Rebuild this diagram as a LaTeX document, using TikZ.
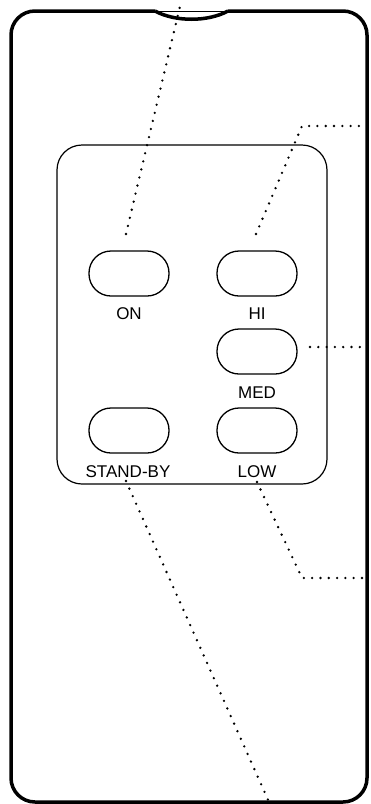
\documentclass[tikz,border=0pt]{standalone}
\usepackage{fontspec}
\setmainfont{Liberation Sans}
\begin{document}
\begin{tikzpicture}[x=1pt, y=-1pt,
    btn/.style={draw, line width=1.3pt, rounded corners=22pt, minimum width=80pt, minimum height=45pt, inner sep=0pt},
    lbl/.style={anchor=base, font=\fontsize{17}{20}\selectfont},
    leader/.style={line width=2.6pt, line cap=round, dash pattern=on 0pt off 8.3pt}]
    \useasboundingbox (0,0) rectangle (370,804);
    % housing with the notch on top
    \draw[line width=3.5pt, rounded corners=24pt] (228,11) -- (367,11) -- (367,802) -- (11,802) -- (11,11) -- (155,11);
    \draw[line width=3.5pt] (155,11) .. controls (175,22) and (208,22) .. (228,11);
    \draw[line width=1pt] (155,11) -- (228,11);
    % keypad
    \draw[line width=1.2pt, rounded corners=25pt] (57,145) rectangle (327,484);
    \node[btn] (on) at (129,273.5) {};
    \node[btn] (hi) at (257,273.5) {};
    \node[btn] (med) at (257,351.5) {};
    \node[btn] (stby) at (129,430.5) {};
    \node[btn] (low) at (257,430.5) {};
    \node[lbl] (onlbl) at (129,319) {ON};
    \node[lbl] (hilbl) at (257,319) {HI};
    \node[lbl] (medlbl) at (257,398) {MED};
    \node[lbl] (stbylbl) at (128,477) {STAND-BY};
    \node[lbl] (lowlbl) at (257,477) {LOW};
    % leader lines
    \coordinate (ontip) at (126,234);   \coordinate (onend) at (181,2);
    \coordinate (hitip) at (256,234);   \coordinate (hibend) at (302,126);  \coordinate (hiend) at (363,126);
    \coordinate (medtip) at (310,347);  \coordinate (medend) at (364,347);
    \coordinate (lowtip) at (257,482);  \coordinate (lowbend) at (302,578); \coordinate (lowend) at (363,578);
    \coordinate (stbytip) at (126,481); \coordinate (stbyend) at (269,802);
    \draw[leader] (ontip) -- (onend);
    \draw[leader] (hitip) -- (hibend) -- (hiend);
    \draw[leader] (medtip) -- (medend);
    \draw[leader] (lowtip) -- (lowbend) -- (lowend);
    \draw[leader] (stbytip) -- (stbyend);
\end{tikzpicture}
\end{document}
